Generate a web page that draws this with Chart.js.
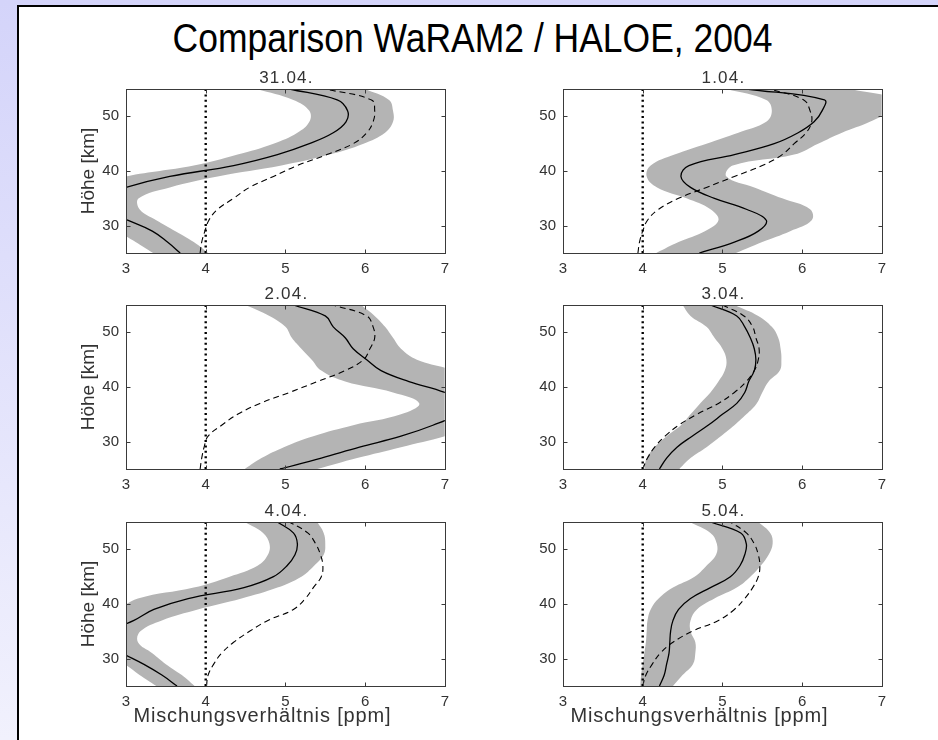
<!DOCTYPE html>
<html>
<head>
<meta charset="utf-8">
<script src="https://cdn.jsdelivr.net/npm/chart.js@4.4.1/dist/chart.umd.min.js"></script>
<style>
  html, body { margin: 0; padding: 0; }
  body {
    width: 938px; height: 740px; overflow: hidden; position: relative;
    background: linear-gradient(#d4d4fa, #f1f1fd);
    font-family: "Liberation Sans", Arial, sans-serif;
  }
  #panel {
    position: absolute; left: 17px; top: 5px; width: 940px; height: 760px;
    background: #fff; border: 2px solid #000; box-sizing: border-box;
  }
  #title {
    position: absolute; left: 0; top: 14px; width: 945px; text-align: center;
    font-size: 41px; line-height: 48px; color: #000; white-space: nowrap;
    transform: scaleX(0.865); transform-origin: 472.5px 0;
  }
  canvas { position: absolute; }
</style>
</head>
<body>
<div id="panel"></div>
<div id="title">Comparison WaRAM2 / HALOE, 2004</div>
<canvas id="c0" width="400" height="227" style="left:56px;top:56px"></canvas>
<canvas id="c1" width="400" height="227" style="left:493px;top:56px"></canvas>
<canvas id="c2" width="400" height="227" style="left:56px;top:272px"></canvas>
<canvas id="c3" width="400" height="227" style="left:493px;top:272px"></canvas>
<canvas id="c4" width="400" height="248" style="left:56px;top:489px"></canvas>
<canvas id="c5" width="400" height="248" style="left:493px;top:489px"></canvas>
<script>
// ---------- data ----------
const altitude = [25, 27, 29, 31, 33, 35, 37, 39, 41, 43, 45, 47, 49, 51, 53, 55];
const dayTitles = ['31.04.', '1.04.', '2.04.', '3.04.', '4.04.', '5.04.'];
const xTickValues = [3, 4, 5, 6, 7];
const yTickValues = [30, 40, 50];
const refValue = [4, 4];
const refAlt = [25, 55];
const xAxisTitle = 'Mischungsverhältnis [ppm]';
const yAxisTitle = 'Höhe [km]';

// 31.04.
const model31 = [3.68, 3.52, 3.33, 3.02, 2.72, 2.62, 3.00, 3.55, 4.35, 4.90, 5.30, 5.60, 5.76, 5.78, 5.65, 5.05];
const low31   = [3.34, 3.12, 2.88, 2.58, 2.28, 2.18, 2.50, 3.00, 3.85, 4.40, 4.85, 5.15, 5.30, 5.30, 5.10, 4.64];
const high31  = [4.03, 3.85, 3.62, 3.38, 3.17, 3.16, 3.55, 4.15, 4.95, 5.55, 5.98, 6.25, 6.35, 6.35, 6.30, 6.00];
const haloe31 = [3.93, 3.95, 3.99, 4.04, 4.15, 4.35, 4.55, 4.85, 5.15, 5.52, 5.85, 6.02, 6.10, 6.12, 6.08, 5.50];
// 1.04.
const model01 = [4.71, 5.15, 5.45, 5.55, 5.30, 4.90, 4.60, 4.48, 4.58, 5.15, 5.65, 5.95, 6.15, 6.25, 6.28, 5.30];
const low01   = [4.17, 4.45, 4.78, 4.95, 4.85, 4.55, 4.18, 4.05, 4.10, 4.40, 4.80, 5.20, 5.55, 5.62, 5.55, 5.05];
const high01  = [5.17, 5.50, 5.85, 6.12, 6.10, 5.75, 5.40, 5.05, 5.13, 5.90, 6.20, 6.50, 6.85, 7.10, 7.20, 6.60];
const haloe01 = [3.94, 3.96, 4.00, 4.06, 4.20, 4.45, 4.80, 5.15, 5.50, 5.75, 5.90, 6.05, 6.12, 6.10, 6.02, 5.60];
// 2.04.
const model02 = [4.93, 5.45, 5.93, 6.45, 6.85, 7.15, 7.25, 7.00, 6.55, 6.20, 6.02, 5.85, 5.75, 5.60, 5.50, 5.10];
const low02   = [4.49, 4.70, 4.98, 5.35, 5.85, 6.45, 6.68, 6.35, 5.75, 5.45, 5.33, 5.20, 5.08, 5.00, 4.80, 4.50];
const high02  = [5.40, 5.90, 6.45, 7.00, 7.40, 7.70, 7.80, 7.60, 7.30, 7.10, 6.65, 6.45, 6.35, 6.25, 6.12, 5.95];
const haloe02 = [3.93, 3.95, 3.98, 4.03, 4.20, 4.40, 4.68, 5.05, 5.40, 5.75, 5.98, 6.06, 6.12, 6.10, 6.02, 5.60];
// 3.04.
const model03 = [4.21, 4.30, 4.43, 4.62, 4.82, 5.00, 5.18, 5.28, 5.33, 5.40, 5.42, 5.40, 5.35, 5.28, 5.18, 4.85];
const low03   = [4.02, 4.05, 4.15, 4.30, 4.48, 4.60, 4.72, 4.85, 4.95, 5.03, 5.05, 5.00, 4.90, 4.80, 4.60, 4.50];
const high03  = [4.46, 4.60, 4.80, 4.98, 5.15, 5.30, 5.43, 5.50, 5.58, 5.72, 5.74, 5.73, 5.70, 5.62, 5.45, 5.15];
const haloe03 = [4.00, 4.06, 4.15, 4.28, 4.45, 4.68, 4.95, 5.15, 5.30, 5.40, 5.45, 5.46, 5.42, 5.38, 5.27, 5.00];
// 4.04.
const model04 = [3.64, 3.45, 3.22, 2.95, 2.70, 2.80, 3.10, 3.35, 3.78, 4.48, 4.85, 5.02, 5.12, 5.15, 5.10, 4.90];
const low04   = [3.38, 3.17, 2.98, 2.70, 2.40, 2.35, 2.65, 2.90, 3.15, 3.85, 4.30, 4.65, 4.78, 4.80, 4.72, 4.49];
const high04  = [3.86, 3.70, 3.50, 3.33, 3.15, 3.18, 3.45, 3.90, 4.45, 4.90, 5.20, 5.36, 5.48, 5.50, 5.48, 5.40];
const haloe04 = [4.01, 4.03, 4.10, 4.20, 4.35, 4.55, 4.78, 5.10, 5.25, 5.35, 5.45, 5.47, 5.44, 5.38, 5.28, 5.05];
// 5.04.
const model05 = [4.21, 4.27, 4.30, 4.33, 4.34, 4.35, 4.38, 4.45, 4.60, 4.85, 5.10, 5.22, 5.28, 5.30, 5.23, 4.85];
const low05   = [3.97, 3.98, 4.00, 4.02, 4.04, 4.05, 4.06, 4.10, 4.20, 4.38, 4.65, 4.80, 4.92, 4.93, 4.85, 4.59];
const high05  = [4.38, 4.50, 4.63, 4.66, 4.66, 4.60, 4.60, 4.68, 4.90, 5.18, 5.35, 5.48, 5.58, 5.63, 5.60, 5.45];
const haloe05 = [4.00, 4.04, 4.12, 4.22, 4.38, 4.62, 4.95, 5.15, 5.28, 5.38, 5.45, 5.47, 5.45, 5.40, 5.30, 5.10];

const panels = [
  {title: dayTitles[0], model: model31, low: low31, high: high31, haloe: haloe31},
  {title: dayTitles[1], model: model01, low: low01, high: high01, haloe: haloe01},
  {title: dayTitles[2], model: model02, low: low02, high: high02, haloe: haloe02},
  {title: dayTitles[3], model: model03, low: low03, high: high03, haloe: haloe03},
  {title: dayTitles[4], model: model04, low: low04, high: high04, haloe: haloe04},
  {title: dayTitles[5], model: model05, low: low05, high: high05, haloe: haloe05}
];

// ---------- drawing ----------
const FONT = '"Liberation Sans", Arial, sans-serif';
const TEXT = '#333333';

function profile(values, alts) {
  return values.map((v, i) => ({x: v, y: alts[i]}));
}

const framePlugin = {
  id: 'frame',
  afterDatasetsDraw(chart, args, opts) {
    const {ctx, chartArea: a} = chart;
    const xs = chart.scales.x, ys = chart.scales.y;
    ctx.save();
    ctx.strokeStyle = '#3a3a3a';
    ctx.lineWidth = 1;
    const L = Math.round(a.left) + 0.5, T = Math.round(a.top) + 0.5;
    const R = Math.round(a.right) + 0.5, B = Math.round(a.bottom) + 0.5;
    ctx.strokeRect(L, T, R - L, B - T);
    ctx.beginPath();
    xs.ticks.forEach(t => {
      if (t.value <= xs.min || t.value >= xs.max) return;
      const p = Math.round(xs.getPixelForValue(t.value)) + 0.5;
      ctx.moveTo(p, T); ctx.lineTo(p, T + 4);
      ctx.moveTo(p, B); ctx.lineTo(p, B - 4);
    });
    ys.ticks.forEach(t => {
      if (t.value <= ys.min || t.value >= ys.max) return;
      const p = Math.round(ys.getPixelForValue(t.value)) + 0.5;
      ctx.moveTo(L, p); ctx.lineTo(L + 4, p);
      ctx.moveTo(R, p); ctx.lineTo(R - 4, p);
    });
    ctx.stroke();
    ctx.fillStyle = TEXT;
    ctx.textAlign = 'center';
    ctx.textBaseline = 'middle';
    if (opts && opts.heading) {
      ctx.font = '17px ' + FONT;
      if ('letterSpacing' in ctx) ctx.letterSpacing = '1.2px';
      ctx.fillText(opts.heading, (a.left + a.right) / 2 + 1, a.top - 11);
    }
    if (opts && opts.caption) {
      ctx.font = '20px ' + FONT;
      if ('letterSpacing' in ctx) ctx.letterSpacing = '0.85px';
      ctx.fillText(opts.caption, (a.left + a.right) / 2 + opts.captionShift, a.bottom + opts.captionOffset);
    }
    ctx.restore();
  }
};

panels.forEach((p, idx) => {
  const leftCol = idx % 2 === 0;
  const bottomRow = idx >= 4;
  const datasets = [
    {data: profile(p.low, altitude), borderWidth: 0, pointRadius: 0, fill: false, order: 10},
    {data: profile(p.high, altitude), borderWidth: 0, pointRadius: 0, fill: '-1',
     backgroundColor: '#b4b4b4', order: 10},
    {data: profile(p.model, altitude), borderColor: '#000', borderWidth: 1.3, pointRadius: 0, fill: false, order: 1},
    {data: profile(p.haloe, altitude), borderColor: '#000', borderWidth: 1.1, borderDash: [6, 4],
     pointRadius: 0, fill: false, order: 1},
    {data: profile(refValue, refAlt), borderColor: '#000', borderWidth: 2.4, borderDash: [2, 3.4],
     pointRadius: 0, fill: false, tension: 0, order: 0}
  ];
  const frameOpts = {heading: p.title};
  if (bottomRow) {
    frameOpts.caption = xAxisTitle;
    frameOpts.captionShift = -23;
    frameOpts.captionOffset = 30;
  }
  new Chart(document.getElementById('c' + idx), {
    type: 'line',
    data: {datasets},
    plugins: [framePlugin],
    options: {
      indexAxis: 'y',
      responsive: false,
      animation: false,
      events: [],
      layout: {padding: {left: 0, right: 11, top: 33, bottom: 0}},
      elements: {line: {tension: 0.4, capBezierPoints: false}},
      plugins: {
        legend: {display: false},
        tooltip: {enabled: false},
        title: {display: false},
        frame: frameOpts
      },
      scales: {
        x: {
          type: 'linear', position: 'bottom', min: 3, max: 7,
          afterBuildTicks: s => { s.ticks = xTickValues.map(v => ({value: v})); },
          afterFit: s => { s.height = bottomRow ? 51 : 30; },
          grid: {display: false, drawTicks: false},
          border: {display: false},
          ticks: {color: TEXT, font: {family: FONT, size: 15}, padding: 7, maxRotation: 0, autoSkip: false}
        },
        y: {
          type: 'linear', position: 'left', min: 25, max: 55, reverse: false,
          afterBuildTicks: s => { s.ticks = yTickValues.map(v => ({value: v})); },
          afterFit: s => { s.width = 70; },
          grid: {display: false, drawTicks: false},
          border: {display: false},
          ticks: {color: TEXT, font: {family: FONT, size: 15}, padding: 7},
          title: {
            display: leftCol, text: yAxisTitle, color: TEXT,
            font: {family: FONT, size: 19}, padding: {top: 21, bottom: 0}
          }
        }
      }
    }
  });
});
</script>
</body>
</html>
